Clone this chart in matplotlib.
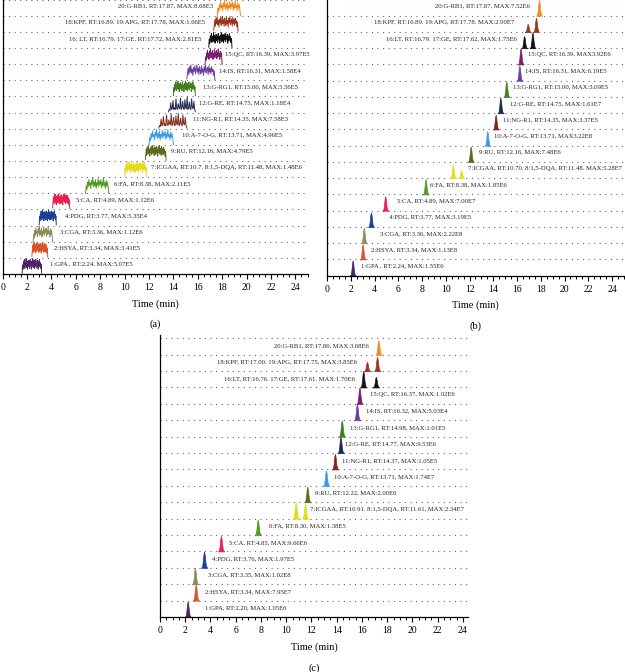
import matplotlib.pyplot as plt
import numpy as np
from matplotlib.ticker import MultipleLocator

plt.rcParams['font.family'] = ['Liberation Serif', 'DejaVu Serif']

# one colour per row, bottom (1:GPA) to top (20:G-RB1)
colors = ['#4b2565', '#d8532a', '#8e8c5c', '#1b3f94', '#e8204e', '#4f9a22',
          '#e3dc1c', '#5a6b1e', '#3c9be6', '#7b2814', '#222752', '#3e7f1c',
          '#6b3d9e', '#7c1d6d', '#111111', '#9b3519', '#f08a24']

# ---- panel (a): noise traces ----
a_labels = ['1:GPA , RT:2.24, MAX:5.07E5', '2:HSYA, RT:3.34, MAX:3.41E5',
            '3:CGA, RT:3.36, MAX:1.12E6', '4:PDG, RT:3.77, MAX:5.35E4',
            '5:CA, RT:4.89, MAX:1.12E6', '6:FA, RT:8.38, MAX:2.11E5',
            '7:ICGAA, RT:10.7. 8:1,5-DQA, RT:11.48, MAX:1.48E6',
            '9:RU, RT:12.16, MAX:4.79E5', '10:A-7-O-G, RT:13.71, MAX:4.96E5',
            '11:NG-R1, RT:14.35, MAX:7.58E3', '12:G-RE, RT:14.75, MAX:1.18E4',
            '13:G-RG1, RT:15.00, MAX:5.56E5', '14:IS, RT:16.31, MAX:1.58E4',
            '15:QC, RT:16.39, MAX:3.97E5',
            '16: LT, RT:16.79. 17:GE, RT:17.72, MAX:2.81E5',
            '18:KPF, RT:16.89. 19:APG, RT:17.78, MAX:1.66E5',
            '20:G-RB1, RT:17.87, MAX:8.68E3']
a_start = [1.6, 2.4, 2.5, 3.0, 4.1, 6.8, 10.0, 11.7, 12.0, 12.8, 13.6, 14.0, 15.1, 16.6, 16.9, 17.3, 17.6]
a_end = [3.2, 3.7, 4.1, 4.4, 5.5, 8.7, 11.8, 13.4, 14.0, 15.1, 15.8, 15.8, 17.4, 18.0, 18.8, 19.3, 19.5]
a_text_x = [3.9, 4.2, 4.7, 5.1, 6.0, 9.1, 12.2, 13.8, 14.7, 15.6, 16.1, 16.4, 17.7, 18.2, 16.3, 16.6, 17.25]
a_profile = [0, 1, 3, 0, 1, 3, 0, 1, 3, 2, 2, 0, 1, 3, 0, 1, 3]

noise_0 = [0.05, 0.55, 0.3, 0.75, 0.45, 0.9, 0.35, 0.7, 0.5, 0.95, 0.4, 0.8, 0.3, 0.65, 0.85,
           0.45, 0.75, 0.35, 0.9, 0.55, 0.7, 0.3, 0.8, 0.5, 0.95, 0.4, 0.65, 0.85, 0.35, 0.75,
           0.5, 0.9, 0.4, 0.7, 0.55, 0.85, 0.3, 0.75, 0.45, 0.9, 0.5, 0.7, 0.35, 0.6, 0.05]
noise_1 = [0.1, 0.4, 0.75, 0.35, 0.85, 0.5, 0.95, 0.45, 0.7, 0.3, 0.8, 0.55, 0.9, 0.4, 0.65,
           0.95, 0.5, 0.75, 0.35, 0.85, 0.6, 0.4, 0.9, 0.5, 0.7, 0.3, 0.85, 0.55, 0.95, 0.45,
           0.65, 0.8, 0.35, 0.9, 0.5, 0.75, 0.4, 0.85, 0.55, 0.7, 0.3, 0.6, 0.05]
noise_2 = [0.05, 0.2, 0.15, 0.6, 0.2, 0.25, 0.75, 0.2, 0.3, 0.2, 0.85, 0.25, 0.2, 0.55, 0.3,
           0.25, 0.9, 0.2, 0.3, 0.7, 0.25, 0.2, 0.8, 0.3, 0.25, 0.95, 0.2, 0.3, 0.65, 0.25,
           0.2, 0.85, 0.3, 0.25, 0.7, 0.2, 0.05]
noise_3 = [0.0, 0.45, 0.25, 0.7, 0.4, 0.85, 0.5, 0.65, 0.3, 0.8, 0.55, 0.95, 0.4, 0.7, 0.45,
           0.85, 0.3, 0.65, 0.5, 0.9, 0.4, 0.75, 0.55, 0.85, 0.35, 0.7, 0.45, 0.95, 0.5, 0.65,
           0.3, 0.8, 0.45, 0.7, 0.4, 0.0]
noise_profiles = [noise_0, noise_1, noise_2, noise_3]

# ---- panel (b): peaks ----
b_labels = ['1:GPA , RT:2.24, MAX:1.55E6', '2:HSYA, RT:3.34, MAX:1.13E8',
            '3:CGA, RT:3.36, MAX:2.22E8', '4:PDG, RT:3.77, MAX:3.19E5',
            '5:CA, RT:4.89, MAX:7.00E7', '6:FA, RT:8.38, MAX:1.85E6',
            '7:ICGAA, RT:10.70. 8:1,5-DQA, RT:11.48. MAX:5.28E7',
            '9:RU, RT:12.16, MAX:7.48E6', '10:A-7-O-G, RT:13.71, MAX3.22E8',
            '11:NG-R1, RT:14.35, MAX:3.37E5', '12:G-RE, RT:14.75, MAX:1.61E7',
            '13:G-RG1, RT:15.00, MAX:3.09E5', '14:IS, RT:16.31, MAX:6.19E5',
            '15:QC, RT:16.39, MAX3.92E6',
            '16:LT, RT:16.79. 17:GE, RT:17.62, MAX:1.75E6',
            '18:KPF, RT:16.89. 19:APG, RT:17.78. MAX:2.90E7',
            '20:G-RB1, RT:17.87, MAX:7.52E6']
b_peaks = [[2.16], [3.0], [3.1], [3.7], [4.9], [8.3], [10.6, 11.3], [12.1], [13.5], [14.2],
           [14.6], [15.1], [16.2], [16.3], [16.6, 17.3], [16.9, 17.6], [17.85]]
b_heights = [[0.95], [0.95], [0.95], [0.9], [0.9], [0.95], [0.82, 0.5], [0.95], [0.9], [0.9],
             [0.95], [0.95], [0.93], [1.0], [0.75, 0.97], [0.5, 0.87], [0.97]]
b_text_x = [2.84, 3.7, 4.46, 5.2, 5.9, 8.7, 11.85, 12.8, 14.1, 14.85, 15.4, 15.7, 16.7, 16.95,
            16.0, 15.8, 17.1]

# ---- panel (c): peaks ----
c_labels = ['1:GPA, RT:2.20, MAX:1.05E6', '2:HSYA, RT:3.34, MAX:7.95E7',
            '3:CGA, RT:3.35, MAX:1.02E8', '4:PDG, RT:3.76, MAX:1.97E5',
            '5:CA, RT:4.85, MAX:9.66E6', '6:FA, RT:8.30, MAX:1.38E5',
            '7:ICGAA, RT:10.91. 8:1,5-DQA, RT:11.61, MAX:2.34E7',
            '9:RU, RT:12.22, MAX:2.00E6', '10:A-7-O-G, RT:13.71, MAX:1.74E7',
            '11:NG-R1, RT:14.37, MAX:1.05E5', '12:G-RE, RT:14.77, MAX:9.53E6',
            '13:G-RG1, RT:14.98, MAX:1.01E5', '14:IS, RT:16.32, MAX:5.03E4',
            '15:QC, RT:16.37, MAX:1.02E6',
            '16:LT, RT:16.76. 17:GE, RT:17.61. MAX:1.70E6',
            '18:KPF, RT:17.00. 19:APG, RT:17.75, MAX:3.85E6',
            '20:G-RB1, RT:17.86, MAX:3.68E6']
c_peaks = [[2.19], [2.83], [2.77], [3.49], [4.83], [7.74], [10.75, 11.49], [11.67], [13.15],
           [13.86], [14.3], [14.4], [15.6], [15.8], [16.1, 17.1], [16.4, 17.2], [17.3]]
c_heights = [[0.95], [1.0], [1.0], [1.0], [0.95], [0.95], [1.0, 0.9], [0.95], [0.95], [0.95],
             [1.0], [1.0], [1.0], [1.0], [1.0, 0.65], [0.57, 0.87], [0.9]]
c_text_x = [3.56, 3.56, 3.78, 4.15, 5.5, 8.6, 11.9, 12.3, 13.8, 14.4, 14.65, 15.05, 16.3, 16.6,
            15.45, 15.6, 16.5]

# shape of one peak: offsets (min) and relative heights
peak_dx = [-0.25, -0.16, -0.1, -0.05, 0.0, 0.05, 0.11, 0.17, 0.27]
peak_h = [0.0, 0.07, 0.38, 0.82, 1.0, 0.8, 0.33, 0.08, 0.0]

right_rows = [14, 15, 16]  # labels sit left of the trace


def setup_axis(ax, xmax, letter):
    ax.set_xlim(0, xmax)
    ax.set_ylim(0, 17.2)
    for s in ['top', 'right']:
        ax.spines[s].set_visible(False)
    ax.spines['left'].set_linewidth(0.9)
    ax.spines['bottom'].set_linewidth(0.9)
    ax.set_yticks([])
    ax.xaxis.set_major_locator(MultipleLocator(2))
    ax.xaxis.set_minor_locator(MultipleLocator(0.5))
    ax.tick_params(axis='x', which='major', length=3.5, width=0.8, labelsize=7, pad=3)
    ax.tick_params(axis='x', which='minor', length=2.5, width=0.7)
    ax.set_xlabel('Time (min)', fontsize=7.5, labelpad=5)
    for k in range(1, 18):
        ax.axhline(k, color='#666666', lw=0.8, ls=(0, (1, 4)), zorder=0)
    ax.text(0.5, -0.18, letter, transform=ax.transAxes, ha='center', va='center', fontsize=7.5)


def put_labels(ax, labels, text_x, off):
    for i, lab in enumerate(labels):
        ha = 'right' if i in right_rows else 'left'
        ax.text(text_x[i], i + off, lab, fontsize=4.75, ha=ha, va='center', color='#222222')


def draw_peaks(ax, peaks, heights):
    for i, (pos, hts) in enumerate(zip(peaks, heights)):
        for p, h in zip(pos, hts):
            xs = np.array(peak_dx) + p
            ys = i + np.array(peak_h) * h
            ax.fill_between(xs, i, ys, color=colors[i], lw=0.5, zorder=2)


fig = plt.figure(figsize=(6.25, 6.72), dpi=100)

ax_a = fig.add_axes([2.6 / 625, 398 / 672, 305 / 625, 277.6 / 672])
setup_axis(ax_a, 25, '(a)')
for i in range(17):
    prof = noise_profiles[a_profile[i]]
    xs = np.linspace(a_start[i], a_end[i], len(prof))
    ax_a.plot(xs, i + np.array(prof), color=colors[i], lw=0.7, zorder=2)
put_labels(ax_a, a_labels, a_text_x, 0.6)

ax_b = fig.add_axes([327 / 625, 396.3 / 672, 296.9 / 625, 279.5 / 672])
setup_axis(ax_b, 25, '(b)')
draw_peaks(ax_b, b_peaks, b_heights)
put_labels(ax_b, b_labels, b_text_x, 0.6)

ax_c = fig.add_axes([160 / 625, 55 / 672, 308 / 625, 282 / 672])
setup_axis(ax_c, 24.4, '(c)')
draw_peaks(ax_c, c_peaks, c_heights)
put_labels(ax_c, c_labels, c_text_x, 0.55)

fig.savefig('out.png', dpi=100)
